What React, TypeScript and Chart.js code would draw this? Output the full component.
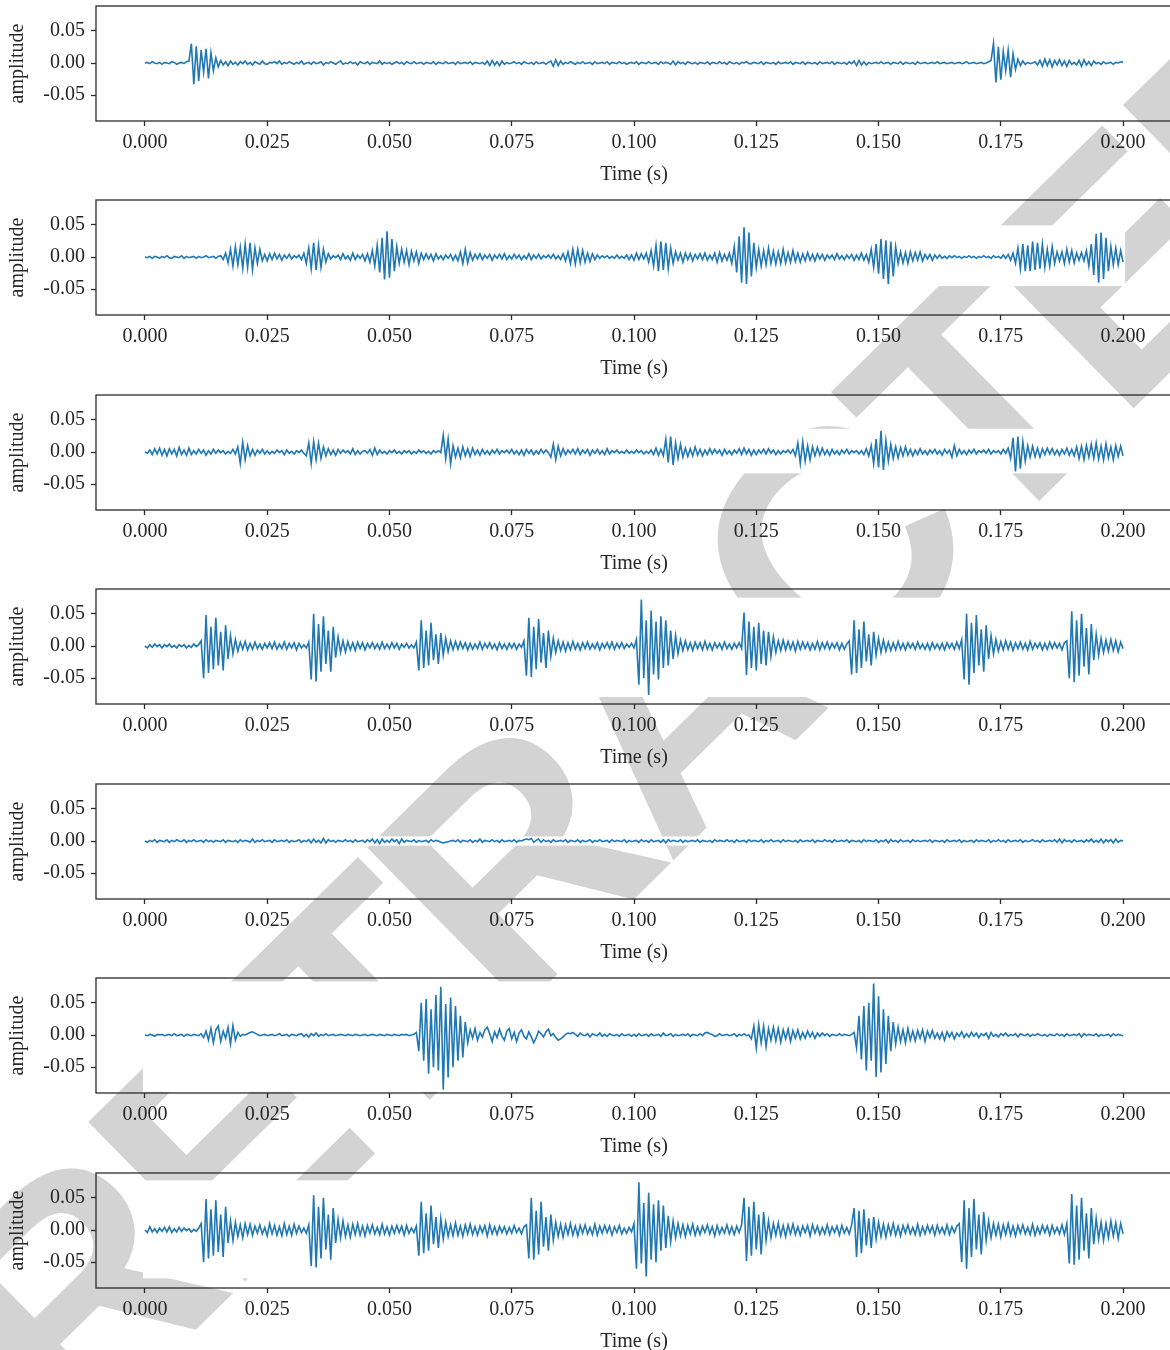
import React, { useEffect, useRef } from "react";
import { Chart, registerables } from "chart.js";

Chart.register(...registerables);

// Tick values
const X_TICKS = [0, 0.025, 0.05, 0.075, 0.1, 0.125, 0.15, 0.175, 0.2];
const Y_TICKS = [-0.05, 0, 0.05];
const X_TITLE = "Time (s)";
const Y_TITLE = "amplitude";
const WATERMARK = "RETRACTED";
const T_END = 0.2;

// Amplitude samples (unit: 0.001), evenly spaced over 0 .. 0.2 s
const SIGNAL_1 = [
  0,1,-1,2,0,-1,1,-2,1,0, -1,2,1,-2,0,1,-1,2,3,30, -33,26,-28,20,-14,22,-24,16,-12,8, -6,4,-3,2,-4,3,-2,1,-3,2, -1,3,-2,1,-3,2,0,-2,3,-1,
  -2,1,0,2,-1,3,-2,1,-1,2, 0,-2,1,-1,3,-2,0,1,-2,2, -1,0,2,-3,1,-1,2,0,-2,1, 3,-2,0,-1,2,-1,1,-3,2,0, -1,2,-2,1,0,-1,3,-2,1,-1,
  1,-2,0,2,-1,1,-2,2,0,-1, 2,-1,0,1,-2,1,0,-1,2,-2, 1,0,-1,2,-1,0,1,-2,2,-1, 0,1,-1,2,-2,1,0,-1,1,-2, 3,-4,4,-3,2,-4,3,-2,1,-1,
  0,2,-1,1,-2,2,0,-1,1,-2, 2,-1,0,1,-2,1,3,-5,5,-4, 3,-2,1,-1,2,0,-2,1,-1,2, -1,0,1,-2,2,-1,0,1,-1,2, -2,1,0,-1,2,-1,1,-2,0,1,
  -1,2,-2,1,0,-1,2,-1,0,1, -2,2,-1,1,0,-2,3,-3,2,-1, 1,-2,2,0,-1,1,-2,1,0,-1, 2,-2,1,0,-1,2,-1,1,-2,2, 0,-1,1,-2,1,0,2,-1,-1,1,
  0,-1,2,-2,1,0,-1,1,-2,2, -1,0,1,-1,2,-2,1,0,-1,2, -2,1,0,-1,1,-2,2,-1,0,1, -1,2,-2,1,0,-1,1,-2,2,-1, 3,-4,4,-3,2,-3,1,-1,0,1,
  -1,2,-1,0,1,-2,1,0,-1,2, -2,1,0,-1,1,-2,2,-1,0,1, -1,0,1,-1,2,-1,0,1,-1,0, 1,-1,0,1,-1,0,2,-1,0,1, -1,0,1,-1,0,2,4,30,-30,25,
  -26,18,-12,20,-22,14,-10,6,-4,3, -2,1,-1,0,2,-3,4,-5,6,-4, 5,-6,4,-3,5,-4,3,-5,4,-2, 1,-3,4,-5,5,-3,2,-4,3,-1, 1,-2,2,-1,0,1,-2,1,0,2,
  1,
];

const SIGNAL_2 = [
  0,-1,1,-2,1,0,-2,1,-1,2, -1,-2,1,0,-1,2,-2,1,-1,0, 1,-2,1,-1,0,2,-1,0,1,-2, 1,2,-4,6,-9,12,-14,16,-12,15, -18,20,-16,22,-20,14,-10,12,-6,4,
  -6,5,-4,6,-3,4,-5,3,-2,4, -3,2,-1,3,-4,6,-10,14,-18,22, -20,18,-16,12,-8,5,-3,2,-1,3, -4,5,-3,2,-5,6,-4,3,-2,4, -6,5,-8,10,-14,18,-24,30,-35,40,
  -32,28,-22,16,-10,12,-8,10,-12,9, -6,8,-10,6,-4,5,-3,4,-6,5, -3,2,-4,3,-2,4,-5,3,-6,8, -10,12,-9,7,-5,4,-3,5,-4,3, -2,4,-5,3,-2,4,-3,5,-4,2,
  -3,4,-2,3,-4,2,-3,5,-4,3, -2,4,-3,2,-1,3,-2,4,-3,2, -4,5,-6,8,-10,12,-11,12,-9,10, -8,6,-7,5,-4,3,-2,2,-1,2, -2,1,-2,3,-2,1,-2,3,-4,3,
  -5,6,-4,5,-3,6,-8,10,-14,18, -22,24,-20,22,-18,14,-10,8,-5,6, -8,6,-4,5,-6,4,-3,5,-4,6, -5,3,-4,6,-8,7,-6,4,-5,6, -10,16,-24,32,-40,46,-42,38,-30,22,
  -16,12,-14,10,-12,14,-10,9,-11,8, -10,12,-9,7,-8,10,-7,6,-8,5, -6,7,-5,4,-6,5,-3,4,-5,3, -2,3,-4,5,-3,2,-4,3,-2,4, -5,3,-4,6,-5,4,-8,12,-16,20,
  -26,28,-34,26,-42,24,-30,16,-10,8, -9,7,-10,8,-6,7,-5,8,-6,4, -3,4,-5,3,-2,3,-2,1,-2,2, -1,2,-1,1,-2,1,-1,2,-1,1, -2,1,-1,2,-1,1,-2,2,-1,1,
  -2,3,-2,4,-5,6,-10,14,-18,20, -22,18,-22,24,-20,22,-18,20,-16,12, -14,16,-10,8,-6,8,-10,12,-8,10, -9,6,-5,7,-6,10,-14,20,-28,36, -40,38,-34,30,-22,16,-12,14,-12,10,
  -8,
];

const SIGNAL_3 = [
  0,-2,3,-4,5,-3,6,-5,4,-6, 5,-3,4,-6,7,-4,3,-5,6,-4, 2,-3,4,-2,3,-5,2,-3,4,-2, 3,-1,2,-3,1,-2,4,-3,8,-18, 15,-12,10,-6,4,-5,3,-2,4,-3,
  2,-3,1,-2,3,-1,2,-4,3,-2, 1,-3,2,-1,3,-2,-6,14,-18,16, -12,14,-10,8,-6,5,-4,3,-5,4, -2,3,-1,2,-3,5,-4,2,-3,1, 2,-2,4,-5,6,-4,3,-2,1,-3,
  2,-1,3,-2,1,-3,2,-1,2,-3, 1,-2,3,-1,2,-2,1,-3,2,-1, 2,-1,26,-10,20,-18,10,-8,6,-9, 8,-6,5,-7,6,-4,3,-5,4,-3, 2,-4,3,-2,4,-3,2,-1,3,-2,
  4,-3,2,-4,3,-5,4,-2,3,-4, 2,-3,4,-2,3,-1,-8,12,-12,9, -6,5,-4,3,-2,4,-3,5,-4,3, -2,4,-5,3,-2,4,-3,2,-4,5, -3,2,-1,3,-2,1,-2,3,-2,1,
  -2,3,-1,2,-3,1,-2,3,-4,6, -5,4,-6,20,-16,24,-20,14,-10,12, -8,6,-7,5,-6,8,-5,4,-6,3, -4,5,-3,4,-2,3,-5,4,-3,2, -4,3,-2,5,-4,6,-3,4,-5,3,
  -4,3,-2,4,-3,5,-2,3,-4,2, -3,2,-1,3,-2,4,-6,14,-18,16, -14,10,-12,8,-6,7,-5,6,-4,3, -5,4,-3,2,-4,3,-2,4,-3,2, -1,2,-3,2,-4,5,-6,10,-18,20,
  -24,33,-28,18,-14,12,-10,8,-9,7, -6,8,-5,4,-6,3,-4,5,-3,2, -4,3,-2,4,-3,2,-5,4,-2,3, -8,10,-6,4,-3,2,-4,3,-2,4, -3,2,-1,3,-2,4,-3,2,-1,2,
  -3,4,-2,6,-10,22,-30,24,-26,16, -14,10,-8,9,-7,6,-8,5,-4,6, -3,5,-4,3,-5,4,-3,6,-5,4, -6,8,-10,9,-12,10,-8,12,-10,14, -11,9,-12,13,-9,8,-12,10,-7,9,
  -6,
];

const SIGNAL_4 = [
  0,-3,2,-2,3,-1,2,-3,2,-1, 3,-2,1,-3,2,-1,2,-3,1,-2, 3,-1,2,8,-50,48,-42,30,-36,44, -30,22,-38,32,-20,16,-12,10,-8,6, -5,7,-6,4,-5,6,-4,3,-5,4,
  -3,5,-4,6,-5,3,-4,6,-5,4, -3,5,-6,4,-3,2,-3,6,-52,50, -55,34,-40,46,-28,24,-40,30,-18,14, -10,8,-9,7,-6,5,-7,6,-4,5, -6,4,-3,5,-4,3,-5,6,-4,3,
  -4,5,-3,4,-5,3,-2,4,-3,2, -3,6,-38,40,-34,24,-30,36,-22,18, -28,20,-14,12,-9,8,-6,7,-5,6, -4,5,-6,4,-5,3,-4,6,-5,4, -3,5,-4,3,-6,5,-4,3,-5,4,
  -3,4,-5,3,-2,8,-46,44,-48,30, -36,42,-26,20,-34,24,-16,12,-10,8, -7,6,-8,5,-6,7,-5,4,-6,5, -4,6,-5,3,-4,5,-6,4,-3,5, -4,6,-5,4,-3,5,-4,3,-2,4,
  -3,10,-60,72,-50,40,-76,55,-44,38, -52,46,-34,40,-30,24,-20,16,-12,9, -7,8,-6,5,-7,6,-4,5,-6,7, -5,4,-6,5,-3,4,-5,6,-4,3, -5,4,-3,5,-4,52,-45,38,-34,30,
  -38,36,-28,24,-30,22,-16,14,-10,8, -7,9,-6,7,-5,6,-8,7,-5,6, -4,5,-6,4,-5,7,-6,5,-4,6, -5,4,-3,5,-6,4,-5,3,8,-44, 40,-42,26,-34,38,-24,18,-30,22,-14,
  12,-10,9,-8,6,-7,5,-6,7,-5, 4,-6,5,-3,4,-5,6,-4,3,-5, 4,-6,5,-4,3,-5,4,-6,5,-3, 4,-5,6,-4,10,-52,50,-60,36,-42, 48,-30,26,-40,32,-20,16,-12,10,-8,
  7,-6,8,-5,6,-7,5,-4,6,-5, 4,-6,7,-5,4,-3,5,-6,4,-5, 6,-4,5,-3,4,-6,5,8,-50,54, -56,40,-46,50,-32,28,-44,34,-22,18, -14,12,-10,9,-8,10,-7,8,-9,6,
  -4,
];

const SIGNAL_5 = [
  0,-2,1,-1,2,-2,1,0,-1,2, -2,1,-1,2,0,-1,2,-2,1,-1, 2,-1,0,1,-2,2,-1,1,-2,1, 0,-1,2,-2,1,0,-1,1,-2,2, -1,1,0,-2,3,-2,1,-1,2,-1,
  0,1,-2,2,-1,0,1,-1,2,-2, 1,-1,0,2,-2,1,-1,2,-3,3, -2,1,-3,4,-3,2,-1,1,-2,1, 0,-1,2,-1,1,-2,2,-1,0,1, -2,2,-1,3,-3,2,-4,3,-2,1,
  -2,3,-1,2,-4,3,-2,1,0,-1, 2,-2,1,-1,0,1,-2,2,-1,1, 0,-2,-3,-2,-1,0,1,-1,2,-2, 1,0,-1,2,-2,1,-1,3,-2,1, 0,-1,2,-1,1,-2,2,-1,0,1,
  -1,2,-2,1,0,2,3,2,4,-2, 1,3,-2,2,-1,1,-2,2,-1,0, 1,-1,2,-2,1,0,-1,2,-2,1, -1,0,2,-2,1,-1,2,-1,0,1, -2,2,-1,1,0,-1,2,-2,1,-1,
  0,1,-2,2,-1,1,-2,2,-1,0, 1,-2,2,-3,2,-1,1,0,-1,2, -2,1,-1,0,1,-1,2,-2,1,0, -1,1,-2,2,-1,1,0,-1,2,-1, 1,-2,2,-1,0,1,-2,2,-1,1,
  0,-1,2,-2,1,-1,2,-1,0,1, -2,2,-1,1,0,-1,1,-2,2,-1, 0,1,-1,2,-2,1,0,-1,2,-1, 1,-2,2,-1,0,1,-1,2,-2,1, 0,-1,1,-2,2,-1,1,0,-1,2,
  -2,1,-1,2,-3,2,-1,1,-2,2, -1,0,1,-2,2,-1,1,-1,0,1, -1,2,-2,1,0,-1,1,-2,2,-1, 0,1,-1,2,-2,1,-1,0,1,-2, 2,-1,1,0,-1,2,-2,1,-1,2,
  -1,1,-2,2,-1,0,1,-1,2,-2, 1,-1,0,2,-1,1,-2,2,-1,0, 1,-1,2,-2,3,-3,2,-1,1,-2, 2,-1,0,1,-2,2,-1,3,-2,1, -2,3,-3,2,-1,2,-3,3,-2,1,
  0,
];

const SIGNAL_6 = [
  0,-1,1,0,-2,1,0,1,-1,0, 1,-1,2,-1,0,1,-2,1,0,-1, 1,0,-1,2,-4,6,-8,10,-12,8, 14,-10,6,-5,12,-14,15,-8,4,-2, 1,0,2,4,5,3,1,-1,0,1,
  -1,0,1,-1,0,2,-1,0,1,-2, 1,0,-1,1,2,-2,1,-3,2,-1, 3,-2,1,-1,2,-1,0,1,-1,0, 1,0,-1,1,0,-1,1,0,-1,0, 1,-1,0,1,0,-1,1,0,-1,1,
  0,-1,1,0,-1,1,0,1,-1,0, 1,4,-25,50,-40,56,-60,40,-50,62, -55,75,-85,48,-66,58,-50,45,-40,30, -35,20,-12,8,-5,10,-8,4,-3,8, 12,2,-10,5,-4,9,-2,-8,6,10,
  -6,4,-10,3,8,-2,-6,5,-3,-12, -4,6,2,-3,5,9,-1,2,-4,-8, -6,-3,1,3,2,4,1,-2,3,0, -1,2,-3,2,0,-1,3,-2,1,-2, 2,0,-1,1,-2,2,-1,0,1,-2,
  1,-2,2,-1,0,1,-2,2,-1,0, 1,-2,3,-1,0,2,-2,1,-1,0, 1,-1,2,-2,1,0,-1,2,-1,3, 4,2,1,-2,-1,2,-1,0,1,-1, 0,2,-2,1,-1,2,-1,0,-6,14,
  -20,16,-12,14,-18,10,-8,12,-9,10, -11,8,-6,9,-10,7,-5,8,-6,4, -5,6,-3,4,-5,3,-2,3,-1,2, -2,1,0,-1,2,-1,1,0,-1,1, 4,-20,30,-38,45,-55,50,-40,80,-65,
  60,-58,40,-45,30,-25,20,-14,12,-10, 8,-12,10,-8,6,-9,7,-5,8,-10, 6,-4,7,-5,3,-6,4,-8,5,-3, 4,-6,3,-2,5,-4,2,-3,4,-2, 3,-4,2,-1,3,-5,4,-2,1,-3,
  2,-1,3,-2,1,-1,2,-3,2,0, -1,2,-2,1,-1,2,0,-1,1,-2, 1,0,-1,2,-1,1,-2,2,-1,0, 1,-1,2,-3,2,-1,1,0,-1,2, -2,1,-1,0,1,-2,2,-1,1,0,
  -1,
];

const SIGNAL_7 = [
  0,-4,5,-3,2,-4,3,-2,4,-3, 5,-4,2,-3,4,-2,3,-1,2,-3, 1,-2,3,10,-50,48,-44,32,-40,46, -34,24,-42,36,-20,14,-16,12,-10,8, -12,10,-7,9,-8,6,-5,8,-6,4,
  -9,10,-6,7,-8,5,-9,10,-7,6, -8,9,-5,6,-4,3,-5,8,-56,54, -58,36,-44,50,-30,24,-46,34,-20,16, -12,14,-10,8,-11,9,-7,10,-8,6, -9,7,-5,8,-6,4,-7,9,-6,5,
  -8,6,-5,7,-4,6,-8,7,-5,3, -4,6,-40,44,-36,26,-32,38,-22,20, -28,18,-14,12,-10,8,-9,11,-8,6, -10,8,-6,9,-7,5,-8,6,-4,7, -9,8,-6,5,-7,6,-4,5,-6,4,
  -5,7,-4,3,-6,5,8,-44,50,-46, 30,-38,44,-26,20,-32,24,-16,12,-10, 9,-11,8,-7,10,-8,6,-9,7,-5, 8,-6,4,-7,9,-8,6,-5,7,-4, 6,-8,5,-4,7,-6,3,-5,4,-3,
  10,-60,74,-52,42,-72,58,-46,40,-50, 46,-32,38,-28,22,-18,14,-12,10,-9, 8,-10,7,-6,9,-8,5,-7,6,-4, 8,-6,5,-9,7,-6,4,-5,8,-6, 5,-7,6,-4,8,50,-48,36,-40,44,
  -30,24,-38,28,-16,14,-12,10,-8,11, -9,7,-10,8,-6,9,-7,5,-8,6, -4,7,-9,8,-5,6,-7,4,-6,8, -7,5,-4,6,-8,7,-5,4,-6,8, 34,-42,30,-36,32,-24,18,-28,20,-14,
  12,-10,9,-11,8,-7,10,-8,6,-9, 7,-5,8,-6,4,-7,9,-8,5,-6, 7,-4,6,-8,7,-5,4,-6,8,-7, 5,-4,6,10,-50,46,-60,34,-42,48, -30,24,-38,28,-16,14,-12,10,-8,9,
  -11,8,-7,10,-8,6,-9,7,-5,8, -6,4,-7,9,-8,5,-6,7,-4,6, -8,7,-5,4,-6,8,-7,10,-52,56, -54,38,-46,50,-32,26,-44,34,-22,18, -14,12,-16,10,-12,14,-9,11,-13,10,
  -6,
];

const SIGNALS = [SIGNAL_1, SIGNAL_2, SIGNAL_3, SIGNAL_4, SIGNAL_5, SIGNAL_6, SIGNAL_7];

const FONT_FAMILY = "'Liberation Serif', 'DejaVu Serif', serif";
const TEXT_COLOR = "#262626";
const LINE_COLOR = "#1f77b4";
const FRAME_COLOR = "#2a2a2a";

const framePlugin = {
  id: "frameAndMask",
  beforeDatasetsDraw(chart: any) {
    const ds = chart.data.datasets[0].data as { x: number; y: number }[];
    let lo = Infinity;
    let hi = -Infinity;
    ds.forEach((p) => {
      if (p.y < lo) lo = p.y;
      if (p.y > hi) hi = p.y;
    });
    const xs = chart.scales.x;
    const ys = chart.scales.y;
    const ctx = chart.ctx;
    ctx.save();
    ctx.fillStyle = "#ffffff";
    const x0 = xs.getPixelForValue(0) - 2;
    const x1 = xs.getPixelForValue(T_END) + 2;
    const y0 = ys.getPixelForValue(hi) - 2;
    const y1 = ys.getPixelForValue(lo) + 2;
    ctx.fillRect(x0, y0, x1 - x0, y1 - y0);
    ctx.restore();
  },
  afterDatasetsDraw(chart: any) {
    const { left, top, right, bottom } = chart.chartArea;
    const ctx = chart.ctx;
    ctx.save();
    ctx.strokeStyle = FRAME_COLOR;
    ctx.lineWidth = 1.3;
    ctx.strokeRect(left, top, right - left, bottom - top);
    ctx.restore();
  },
};

function Panel({ values, top }: { values: number[]; top: number }) {
  const ref = useRef<HTMLCanvasElement | null>(null);
  useEffect(() => {
    if (!ref.current) return;
    const n = values.length;
    const points = values.map((v, i) => ({ x: (i * T_END) / (n - 1), y: v / 1000 }));
    const font = { family: FONT_FAMILY, size: 20 };
    const chart = new Chart(ref.current, {
      type: "line",
      data: {
        datasets: [
          {
            data: points,
            borderColor: LINE_COLOR,
            borderWidth: 1.6,
            pointRadius: 0,
            tension: 0,
            fill: false,
          },
        ],
      },
      options: {
        animation: false,
        responsive: false,
        maintainAspectRatio: false,
        events: [],
        layout: { autoPadding: false, padding: { top: 6, left: 0, right: 0, bottom: 0 } },
        plugins: { legend: { display: false }, tooltip: { enabled: false } },
        scales: {
          x: {
            type: "linear",
            min: -0.01,
            max: 0.21,
            afterFit(scale: any) {
              scale.height = 66;
              scale.paddingLeft = 0;
              scale.paddingRight = 0;
              scale.paddingTop = 0;
              scale.paddingBottom = 0;
            },
            afterBuildTicks(scale: any) {
              scale.ticks = X_TICKS.map((v) => ({ value: v }));
            },
            ticks: {
              autoSkip: false,
              maxRotation: 0,
              padding: 5,
              color: TEXT_COLOR,
              font,
              callback: (v: any) => Number(v).toFixed(3),
            },
            grid: {
              drawOnChartArea: false,
              drawTicks: true,
              tickLength: 5,
              tickColor: FRAME_COLOR,
              tickWidth: 1.3,
            },
            border: { display: false },
            title: {
              display: true,
              text: X_TITLE,
              color: TEXT_COLOR,
              font,
              padding: { top: 0, bottom: 0 },
            },
          },
          y: {
            type: "linear",
            min: -0.09,
            max: 0.0885,
            afterFit(scale: any) {
              scale.width = 96;
              scale.paddingLeft = 0;
              scale.paddingRight = 0;
              scale.paddingTop = 0;
              scale.paddingBottom = 0;
            },
            afterBuildTicks(scale: any) {
              scale.ticks = Y_TICKS.map((v) => ({ value: v }));
            },
            ticks: {
              padding: 6,
              color: TEXT_COLOR,
              font,
              callback: (v: any) => Number(v).toFixed(2),
            },
            grid: {
              drawOnChartArea: false,
              drawTicks: true,
              tickLength: 5,
              tickColor: FRAME_COLOR,
              tickWidth: 1.3,
            },
            border: { display: false },
            title: {
              display: true,
              text: Y_TITLE,
              color: TEXT_COLOR,
              font,
              padding: { top: 6, bottom: 0 },
            },
          },
        },
      },
      plugins: [framePlugin],
    });
    return () => chart.destroy();
  }, [values]);
  return (
    <canvas
      ref={ref}
      width={1172}
      height={187}
      style={{ position: "absolute", left: 0, top, width: 1172, height: 187, zIndex: 1 }}
    />
  );
}

export default function App() {
  return (
    <div
      style={{
        position: "absolute",
        left: 0,
        top: 0,
        width: 1170,
        height: 1350,
        overflow: "hidden",
        background: "#ffffff",
      }}
    >
      <div
        style={{
          position: "absolute",
          left: 668,
          top: 708,
          transform: "translate(-50%, -50%) rotate(-44.5deg)",
          fontFamily: "'Liberation Sans', Arial, sans-serif",
          fontWeight: 700,
          fontSize: 325,
          letterSpacing: -12,
          lineHeight: 1,
          color: "#d3d3d3",
          whiteSpace: "nowrap",
          zIndex: 0,
        }}
      >
        {WATERMARK}
      </div>
      {SIGNALS.map((s, k) => (
        <Panel key={k} values={s} top={Math.floor(k * 194.5)} />
      ))}
    </div>
  );
}
